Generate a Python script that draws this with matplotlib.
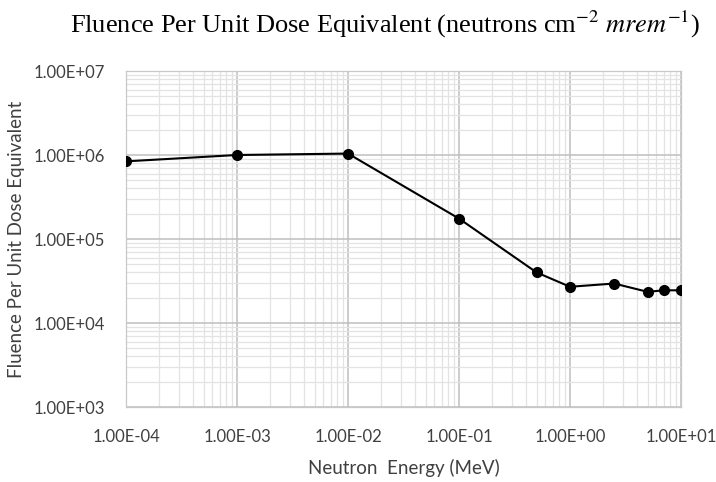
import matplotlib
matplotlib.use("Agg")
import matplotlib.pyplot as plt
from matplotlib.ticker import LogLocator, FixedLocator, NullFormatter, FuncFormatter

energy_mev = [1e-4, 1e-3, 1e-2, 1e-1, 0.5, 1.0, 2.5, 5.0, 7.0, 10.0]
fluence = [8.4e5, 1.0e6, 1.04e6, 1.75e5, 4.0e4, 2.7e4, 2.95e4, 2.35e4, 2.45e4, 2.45e4]
x_ticks = [1e-4, 1e-3, 1e-2, 1e-1, 1e0, 1e1]
y_ticks = [1e3, 1e4, 1e5, 1e6, 1e7]

sans, tsize, lsize = 'Lato', 12, 13.5

plt.rcParams['mathtext.fontset'] = 'stix'
fig = plt.figure(figsize=(7.16, 4.82), dpi=100)
ax = fig.add_axes([126/716, 1-407/482, (681-126)/716, (407-71)/482])

ax.plot(energy_mev, fluence, color='black', lw=1.5, marker='o', ms=7, zorder=3)
ax.set_xscale('log')
ax.set_yscale('log')
ax.set_xlim(1e-4, 1e1)
ax.set_ylim(1e3, 1e7)

ax.xaxis.set_major_locator(FixedLocator(x_ticks))
ax.yaxis.set_major_locator(FixedLocator(y_ticks))
ax.xaxis.set_minor_locator(LogLocator(base=10, subs=range(2, 10), numticks=20))
ax.yaxis.set_minor_locator(LogLocator(base=10, subs=range(2, 10), numticks=20))
ax.xaxis.set_minor_formatter(NullFormatter())
ax.yaxis.set_minor_formatter(NullFormatter())
fmt = FuncFormatter(lambda v, p: "{:.2E}".format(v))
ax.xaxis.set_major_formatter(fmt)
ax.yaxis.set_major_formatter(fmt)

ax.grid(True, which='major', color='#bfbfbf', lw=1.1)
ax.grid(True, which='minor', color='#e3e3e3', lw=0.9)
ax.set_axisbelow(True)
ax.tick_params(which='both', length=0)
ax.tick_params(axis='x', pad=16, labelsize=tsize, labelcolor='#404040')
ax.tick_params(axis='y', pad=15, labelsize=tsize, labelcolor='#404040')
for lab in ax.get_xticklabels() + ax.get_yticklabels():
    lab.set_family(sans)
for s in ax.spines.values():
    s.set_color('#c8c8c8')
    s.set_linewidth(0.9)

ax.set_xlabel('Neutron  Energy (MeV)', family=sans, fontsize=lsize, color='#404040', labelpad=10)
ax.set_ylabel('Fluence Per Unit Dose Equivalent', family=sans, fontsize=lsize, color='#404040', labelpad=6)

fig.text(385/716, 1-24/482, r'Fluence Per Unit Dose Equivalent (neutrons cm$^{-2}$ $mrem^{-1}$)',
         ha='center', va='center', family='Liberation Serif', fontsize=19, color='black')

fig.savefig('out.png', dpi=100, facecolor='white')
